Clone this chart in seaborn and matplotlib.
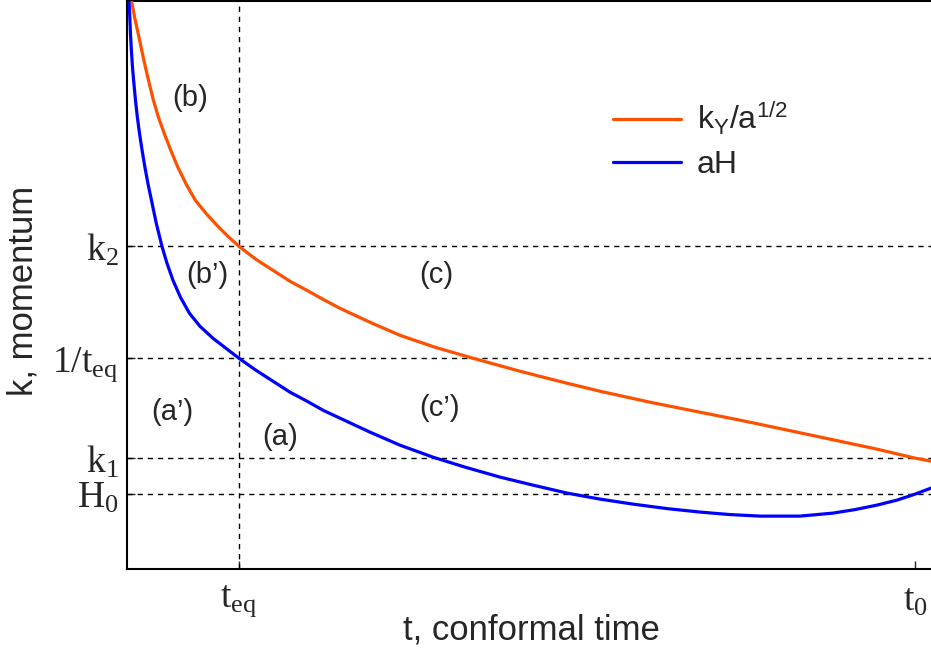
import numpy as np
import pandas as pd
import seaborn as sns
import matplotlib.pyplot as plt

# values: t in units of t0, k in units of the axis height
t_ky = [0.0057, 0.0098, 0.0142, 0.0188, 0.0235, 0.0283, 0.0336, 0.0400, 0.0473,
        0.0556, 0.0647, 0.0753, 0.0869, 0.1003, 0.1142, 0.1282, 0.1421, 0.1637,
        0.1853, 0.2069, 0.2284, 0.2487, 0.2703, 0.3084, 0.3464, 0.3909, 0.4391,
        0.4987, 0.5584, 0.6003, 0.6637, 0.7145, 0.7779, 0.8325, 0.8921, 0.9518,
        1.0000, 1.0203]
k_ky = [1.0000, 0.9701, 0.9420, 0.9121, 0.8822, 0.8541, 0.8243, 0.7944, 0.7663,
        0.7364, 0.7065, 0.6766, 0.6485, 0.6257, 0.6046, 0.5852, 0.5677, 0.5448,
        0.5255, 0.5062, 0.4903, 0.4745, 0.4587, 0.4341, 0.4112, 0.3902, 0.3708,
        0.3480, 0.3269, 0.3128, 0.2935, 0.2794, 0.2619, 0.2460, 0.2285, 0.2109,
        0.1951, 0.1898]

t_ah = [0.0025, 0.0036, 0.0044, 0.0056, 0.0070, 0.0088, 0.0108, 0.0132, 0.0159,
        0.0192, 0.0228, 0.0268, 0.0311, 0.0372, 0.0444, 0.0508, 0.0584, 0.0679,
        0.0793, 0.0926, 0.1091, 0.1256, 0.1421, 0.1637, 0.1853, 0.2069, 0.2284,
        0.2487, 0.2703, 0.3084, 0.3464, 0.3883, 0.4289, 0.4734, 0.5152, 0.5584,
        0.6003, 0.6421, 0.6853, 0.7272, 0.7652, 0.8033, 0.8541, 0.8959, 0.9239,
        0.9518, 0.9772, 1.0000, 1.0203]
k_ah = [1.0000, 0.9701, 0.9420, 0.9121, 0.8822, 0.8541, 0.8243, 0.7944, 0.7663,
        0.7364, 0.7065, 0.6766, 0.6485, 0.6081, 0.5677, 0.5378, 0.5079, 0.4780,
        0.4499, 0.4271, 0.4060, 0.3884, 0.3708, 0.3497, 0.3304, 0.3111, 0.2953,
        0.2794, 0.2654, 0.2408, 0.2179, 0.1968, 0.1793, 0.1617, 0.1476, 0.1336,
        0.1230, 0.1142, 0.1063, 0.1002, 0.0958, 0.0931, 0.0931, 0.0984, 0.1046,
        0.1125, 0.1213, 0.1318, 0.1424]

curve_names = [r"$\mathsf{k_Y/a^{1/2}}$", "aH"]
curve_colors = ["#ff5000", "#0000ff"]

t_eq = 0.142
t_0 = 1.0
k_2 = 0.568
k_inv_teq = 0.371
k_1 = 0.195
H_0 = 0.132

x_ticks = [t_eq, t_0]
x_ticklabels = [r"$\mathrm{t}_{\mathrm{eq}}$", r"$\mathrm{t}_{0}$"]
y_ticks = [H_0, k_1, k_inv_teq, k_2]
y_ticklabels = [r"$\mathrm{H}_{0}$", r"$\mathrm{k}_{1}$",
                r"$\mathrm{1/t}_{\mathrm{eq}}$", r"$\mathrm{k}_{2}$"]

region_names = ["(b)", "(b’)", "(c)", "(a’)", "(c’)", "(a)"]

df = pd.concat([
    pd.DataFrame({"t": t_ky, "k": k_ky, "curve": curve_names[0]}),
    pd.DataFrame({"t": t_ah, "k": k_ah, "curve": curve_names[1]}),
])

sns.set_theme(style="ticks")
plt.rcParams["font.family"] = ["Liberation Sans", "DejaVu Sans"]
plt.rcParams["mathtext.fontset"] = "custom"
plt.rcParams["mathtext.rm"] = "Liberation Serif"
plt.rcParams["mathtext.it"] = "Liberation Serif:italic"
plt.rcParams["mathtext.sf"] = "Liberation Sans"

fig = plt.figure(figsize=(9.31, 6.57), dpi=100)
ax = fig.add_axes([0.1364, 0.1339, 0.868, 0.8651])

# dashed guide lines
for yv in y_ticks:
    ax.axhline(yv, color="black", lw=1.0, ls=(0, (3.8, 3.5)), zorder=1)
ax.axvline(t_eq, color="black", lw=1.0, ls=(0, (3.8, 3.5)), zorder=1)

sns.lineplot(data=df, x="t", y="k", hue="curve", hue_order=curve_names,
             palette=curve_colors, linewidth=2.3, estimator=None, sort=False,
             ax=ax, zorder=3)

ax.set_xlim(0, 1.0254)
ax.set_ylim(0, 1)

ax.set_xticks(x_ticks)
ax.set_xticklabels(x_ticklabels, fontsize=27)
ax.set_yticks(y_ticks)
ax.set_yticklabels(y_ticklabels, fontsize=27)
ax.tick_params(direction="in", length=6, width=1)
ax.tick_params(axis="x", pad=10)
ax.tick_params(axis="y", pad=6)

for side in ["left", "bottom", "top"]:
    ax.spines[side].set_linewidth(1.5)
    ax.spines[side].set_color("black")
ax.spines["right"].set_visible(False)

ax.set_xlabel("t, conformal time", fontsize=25)
ax.set_ylabel("k, momentum", fontsize=25)
ax.xaxis.set_label_coords(0.501, -0.079)
ax.yaxis.set_label_coords(-0.1077, 0.49)

# region labels
region_pos = [(0.080, 0.828), (0.102, 0.517), (0.393, 0.517),
              (0.057, 0.276), (0.396, 0.283), (0.194, 0.232)]
for name, (xp, yp) in zip(region_names, region_pos):
    ax.text(xp, yp, name, fontsize=21, ha="center", va="center")

handles, labels = ax.get_legend_handles_labels()
leg = ax.legend(handles, labels, frameon=False, loc="upper left",
                bbox_to_anchor=(0.658, 0.848), bbox_transform=fig.transFigure,
                fontsize=23, handlelength=2.13, handletextpad=0.5,
                borderpad=0, borderaxespad=0, labelspacing=0.4)
for line in leg.get_lines():
    line.set_linewidth(2.3)

fig.savefig("out.png", dpi=100)
